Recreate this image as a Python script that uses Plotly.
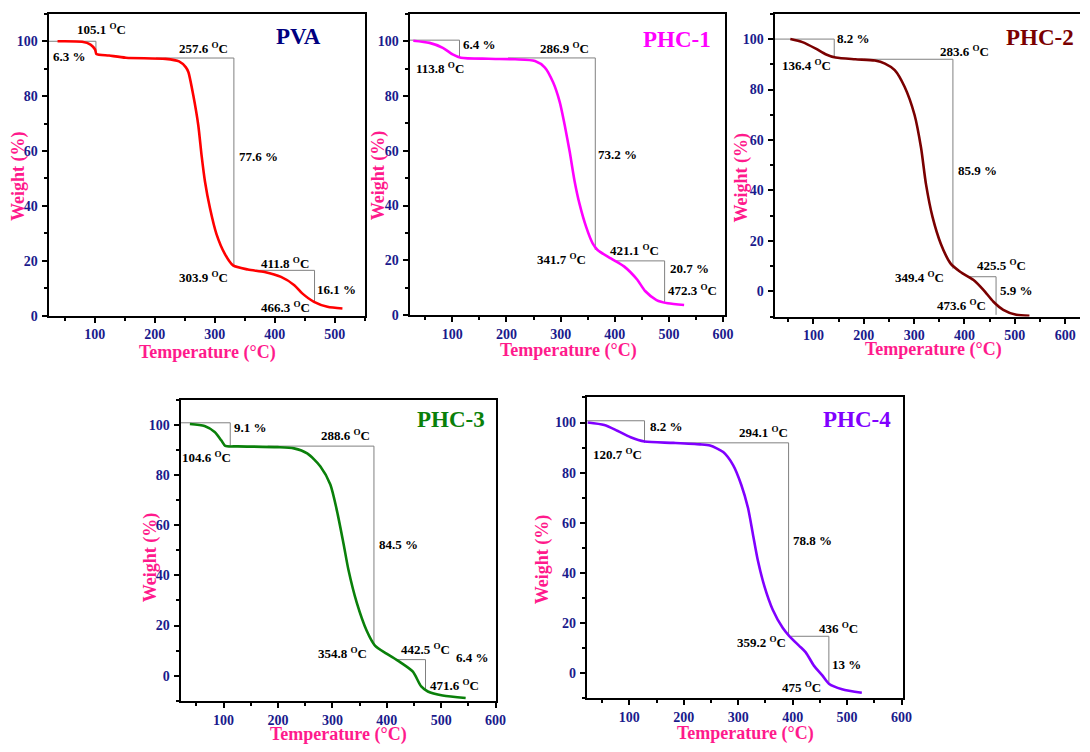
import plotly.graph_objects as go

# ---------------- data ----------------
pva_T = [38, 79, 93, 100.6, 102.8, 124, 152, 218, 240.6, 251.7, 256.1, 264.4, 272.7, 278.1, 283.8, 292, 303, 316.9, 330.6, 355.5, 383.1, 410.6, 432.8, 446, 465.6, 488, 513]
pva_W = [100, 99.8, 98.8, 97, 95.4, 94.8, 94, 93.6, 92.7, 90.6, 88.8, 80.2, 69.3, 58.5, 48.9, 39.3, 29.7, 22.5, 18.3, 16.8, 15.9, 14.1, 11.1, 8.1, 5, 3.2, 2.6]

phc1_T = [28, 58, 82.5, 100.6, 115.7, 167, 216, 252.7, 271, 286.1, 298.4, 307.5, 316.6, 325.7, 334.9, 347.1, 359.1, 368.2, 392.7, 417, 441.2, 456, 477, 498, 528]
phc1_W = [100.2, 99.4, 97.6, 95.2, 94, 93.6, 93.4, 92.8, 90.4, 85, 77.8, 69.4, 59.8, 49, 40.6, 32.2, 26.2, 23.8, 20.7, 17.8, 13, 8.8, 5.5, 4.3, 3.7]

phc2_T = [54, 78, 104.6, 124, 144, 183, 222, 242, 261.4, 281, 300.7, 313.7, 323.5, 336.6, 352.9, 372.5, 392, 418, 438, 457.5, 477, 503, 529]
phc2_W = [100, 98.8, 96.2, 94, 92.7, 92, 91.5, 90.3, 87.7, 81.1, 70, 56.9, 42.5, 29.4, 18.9, 11, 7.7, 4.5, 0.5, -4.1, -7.3, -9.3, -9.7]

phc3_T = [38, 65, 83.6, 95.7, 103, 126, 199, 229.4, 253.7, 278, 296.2, 308.4, 320.5, 329.6, 344.8, 363.1, 378.3, 399.5, 423.8, 448, 463.3, 475.5, 502.8, 545]
phc3_W = [100.3, 99.5, 97.1, 93.8, 91.6, 91.4, 91.1, 90.6, 88.6, 83.4, 76.2, 65.7, 52.6, 42.1, 29.1, 17.9, 12, 8.8, 5.5, 1.6, -4.3, -6.3, -7.9, -8.9]

phc4_T = [23.5, 54, 78, 102.4, 128, 181, 230, 248.2, 272.4, 290.6, 305.7, 317.9, 327, 336.1, 348.3, 363.4, 381.6, 393.8, 412, 424, 439, 454.4, 466.5, 490.8, 527]
phc4_W = [100, 99, 96.7, 94.1, 92.4, 91.9, 91.3, 90.8, 88.2, 83, 75.1, 66, 55.5, 45, 34.6, 25.4, 18.2, 14.9, 11, 8.4, 3.1, -0.8, -4.1, -6.3, -7.7]

# step markers: (x start, y of horizontal, x of vertical, y end)
pva_steps = [(23, 100, 102, 95.2), (202, 93.9, 332, 18.3), (368, 16.5, 466.5, 4.7)]
phc1_steps = [(21, 100.4, 113.3, 94), (203, 93.9, 364, 23.8), (399, 19.8, 492, 4.8)]
phc2_steps = [(22.6, 100, 141.2, 92.9), (200, 92, 377, 9), (408.5, 5.8, 462.7, -9.3)]
phc3_steps = [(21, 100.8, 112.2, 91.5), (181, 91.5, 376.4, 12), (414.7, 6.4, 471.2, -6)]
phc4_steps = [(22, 100.7, 127.9, 91.9), (193, 91.9, 392.5, 14.7), (396.7, 14.8, 466.5, -4.1)]

D = " <sup>O</sup>C"
pva_labels = [("105.1" + D, 111, 104.5, "center"), ("6.3 %", 27, 94.3, "left"),
              ("257.6" + D, 282, 97.6, "center"), ("77.6 %", 338, 58, "left"),
              ("303.9" + D, 281, 14, "center"), ("411.8" + D, 418, 19.2, "center"),
              ("16.1 %", 468, 9.6, "left"), ("466.3" + D, 418, 3.2, "center")]
phc1_labels = [("6.4 %", 116, 98.8, "left"), ("113.8" + D, 77, 90.2, "center"),
               ("286.9" + D, 306.6, 97.6, "center"), ("73.2 %", 365.7, 58.8, "left"),
               ("341.7" + D, 302.4, 20.4, "center"), ("421.1" + D, 437.3, 23.8, "center"),
               ("20.7 %", 498.2, 16.9, "left"), ("472.3" + D, 495.2, 9, "left")]
phc2_labels = [("8.2 %", 142, 100.1, "left"), ("136.4" + D, 86.3, 89.6, "center"),
               ("283.6" + D, 400, 95.3, "center"), ("85.9 %", 383.7, 48.1, "left"),
               ("349.4" + D, 310.5, 5.5, "center"), ("425.5" + D, 473.2, 10.4, "center"),
               ("5.9 %", 467.3, 0.5, "left"), ("473.6" + D, 394.8, -5.4, "center")]
phc3_labels = [("9.1 %", 115.8, 99.1, "left"), ("104.6" + D, 68.4, 87.3, "center"),
               ("288.6" + D, 324.2, 95.8, "center"), ("84.5 %", 381.3, 52.2, "left"),
               ("354.8" + D, 318.7, 9, "center"), ("442.5" + D, 471.2, 10.7, "center"),
               ("6.4 %", 557.5, 7.1, "center"), ("471.6" + D, 475.5, -3.7, "left")]
phc4_labels = [("8.2 %", 134, 98.4, "left"), ("120.7" + D, 78.8, 87.3, "center"),
               ("294.1" + D, 346.4, 96.3, "center"), ("78.8 %", 396.7, 53.1, "left"),
               ("359.2" + D, 342.1, 12.6, "center"), ("436" + D, 484.7, 18.2, "center"),
               ("13 %", 467.7, 3.4, "left"), ("475" + D, 416.7, -5.4, "center")]

names = ["PVA", "PHC-1", "PHC-2", "PHC-3", "PHC-4"]
curve_colors = ["#FF0000", "#FF00FF", "#7A0000", "#0A800A", "#8000FF"]
title_colors = ["#000080", "#FF00FF", "#7A0000", "#0A800A", "#8000FF"]
title_pos = [(439, 101.6), (515, 100.8), (551, 100.8), (518, 102), (517.5, 101.3)]

# ---------------- layout geometry (screen pixels) ----------------
W_PX, H_PX = 1090, 752
frames = [(49, 368, 14, 319), (413.3, 732, 14, 318.5), (781.7, 1090, 14, 320),
          (182.3, 500.7, 404, 708.3), (592.3, 911, 401.7, 706)]
xranges = [[23, 550], [21, 604], [22.6, 629.5], [21, 601], [22, 602]]
yranges = [[0, 110], [0, 110], [-10, 110], [-10, 110], [-10, 110]]
ytitle_pos = [(18, 178), (381.7, 177), (748.3, 179), (151.7, 563), (548.3, 565)]
xtitle_pos = [(209, 356), (573.3, 354), (941.7, 353), (342, 742.7), (752, 741.7)]
right_line = [True, True, False, True, True]


def px(x):
    return x / W_PX


def py(y):
    return 1 - y / H_PX


Ts = [pva_T, phc1_T, phc2_T, phc3_T, phc4_T]
Wsets = [pva_W, phc1_W, phc2_W, phc3_W, phc4_W]
steps = [pva_steps, phc1_steps, phc2_steps, phc3_steps, phc4_steps]
labels = [pva_labels, phc1_labels, phc2_labels, phc3_labels, phc4_labels]

SERIF = "Liberation Serif"
NAVY = "#1A1A8C"
PINK = "#FF1A8C"

fig = go.Figure()
annotations = []
layout = dict(width=W_PX, height=H_PX, margin=dict(l=0, r=0, t=0, b=0),
              paper_bgcolor="white", plot_bgcolor="white", showlegend=False)

for i in range(5):
    n = "" if i == 0 else str(i + 1)
    xa, ya = "x" + n, "y" + n
    x0, x1, y0, y1 = frames[i]
    common = dict(showline=True, linewidth=2, linecolor="black",
                  ticks="outside", ticklen=5, tickwidth=1.5, tickcolor="black",
                  showgrid=False, zeroline=False,
                  tickfont=dict(family=SERIF, size=14, color=NAVY, weight="bold"))
    layout["xaxis" + n] = dict(common, mirror=True,
                               domain=[max(px(x0), 0), min(px(x1), 1)], range=xranges[i],
                               anchor=ya, tick0=0, dtick=100,
                               minor=dict(ticks="outside", ticklen=3, tickwidth=1.5,
                                          tickcolor="black", dtick=50, tick0=0))
    layout["yaxis" + n] = dict(common, mirror=right_line[i],
                               domain=[py(y1), py(y0)], range=yranges[i],
                               anchor=xa, tick0=0, dtick=20, ticklabelstandoff=1,
                               minor=dict(ticks="outside", ticklen=3, tickwidth=1.5,
                                          tickcolor="black", dtick=10, tick0=0))
    # step marker lines
    for (sx0, sy, sx1, sy1) in steps[i]:
        fig.add_trace(go.Scatter(x=[sx0, sx1, sx1], y=[sy, sy, sy1], mode="lines",
                                 line=dict(color="#808080", width=1),
                                 xaxis=xa, yaxis=ya, hoverinfo="skip"))
    # curve
    fig.add_trace(go.Scatter(x=Ts[i], y=Wsets[i], mode="lines", name=names[i],
                             line=dict(color=curve_colors[i], width=2.6, shape="spline", smoothing=0.7),
                             xaxis=xa, yaxis=ya))
    # value labels
    for (txt, lx, ly, anc) in labels[i]:
        annotations.append(dict(text=txt, x=lx, y=ly, xref=xa, yref=ya, xanchor=anc,
                                yanchor="middle", showarrow=False,
                                font=dict(family=SERIF, size=13, color="black", weight="bold")))
    # panel title
    annotations.append(dict(text=names[i], x=title_pos[i][0], y=title_pos[i][1], xref=xa, yref=ya,
                            xanchor="center", yanchor="middle", showarrow=False,
                            font=dict(family=SERIF, size=23, color=title_colors[i], weight="bold")))
    # axis titles
    annotations.append(dict(text="Weight (%)", x=px(ytitle_pos[i][0]), y=py(ytitle_pos[i][1]),
                            xref="paper", yref="paper", textangle=-90, showarrow=False,
                            xanchor="center", yanchor="middle",
                            font=dict(family=SERIF, size=18, color=PINK, weight="bold")))
    annotations.append(dict(text="Temperature (°C)", x=px(xtitle_pos[i][0]), y=py(xtitle_pos[i][1]),
                            xref="paper", yref="paper", showarrow=False,
                            xanchor="center", yanchor="middle",
                            font=dict(family=SERIF, size=18, color=PINK, weight="bold")))

layout["annotations"] = annotations
fig.update_layout(**layout)
fig.write_html("out.html", config={"displayModeBar": False},
               post_script="document.body.style.margin='0';document.body.style.overflow='hidden';")
